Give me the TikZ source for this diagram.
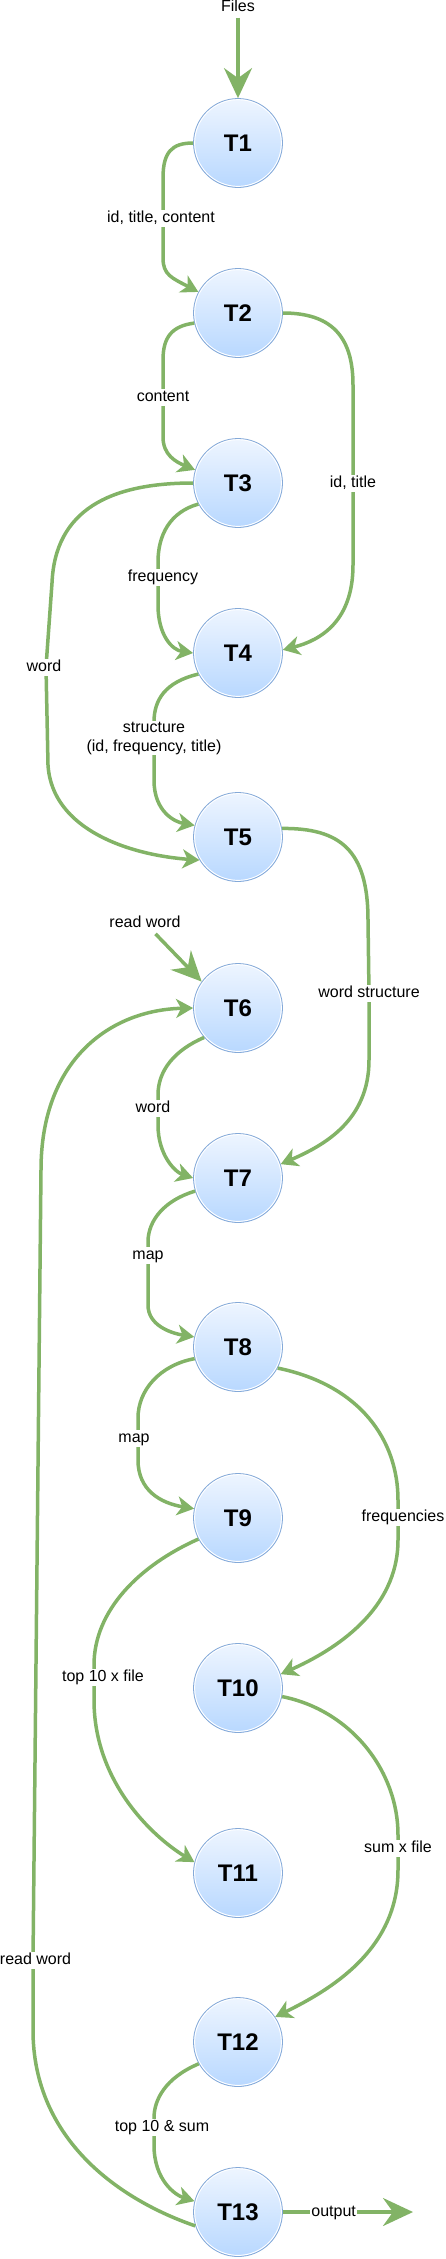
\documentclass[tikz,border=0pt]{standalone}
\usepackage{fontspec}
\setmainfont{Liberation Sans}
\usetikzlibrary{arrows.meta}
\definecolor{edgegreen}{HTML}{82B366}
\definecolor{topblue}{HTML}{EEF5FF}
\definecolor{botblue}{HTML}{B8D8FF}
\definecolor{ringblue}{HTML}{84A9D8}
\begin{document}
\begin{tikzpicture}[x=1pt,y=-1pt,
 task/.style={circle, minimum size=89pt, inner sep=0pt, top color=topblue, bottom color=botblue, draw=ringblue, line width=0.8pt, font=\fontsize{24}{28}\selectfont\bfseries, path picture={\draw[white,line width=1pt] (path picture bounding box.center) circle[radius=43.4pt];}},
 lbl/.style={fill=white, inner sep=1pt, font=\fontsize{16}{19}\selectfont, text height=11.5pt, text depth=3.5pt},
 lbltwo/.style={fill=white, inner sep=1pt, font=\fontsize{16}{19}\selectfont, align=center},
 flow/.style={draw=edgegreen, line width=3.5pt, -{Stealth[length=17pt,width=19pt,inset=5pt]}},
 bigflow/.style={draw=edgegreen, line width=3.5pt, -{Stealth[length=30pt,width=28pt,inset=10pt]}},
]
\useasboundingbox (0,0) rectangle (446,2259);
\node[lbl] (files) at (238,7) {Files};
\node[task] (T1) at (238,143) {T1};
\node[task] (T2) at (238,313) {T2};
\node[task] (T3) at (238,483) {T3};
\node[task] (T4) at (238,653) {T4};
\node[task] (T5) at (238,837) {T5};
\node[task] (T6) at (238,1008) {T6};
\node[task] (T7) at (238,1178) {T7};
\node[task] (T8) at (238,1347) {T8};
\node[task] (T9) at (238,1518) {T9};
\node[task] (T10) at (238,1688) {T10};
\node[task] (T11) at (238,1873) {T11};
\node[task] (T12) at (238,2042) {T12};
\node[task] (T13) at (238,2212) {T13};
\node[lbl] (rw) at (145,923) {read word};
\coordinate (out) at (413,2212);

\draw[bigflow, shorten <=2pt] (files) -- (T1);
\draw[flow] (T1.west) .. controls (172,143) and (163,152) .. (163,178) -- (163,218) node[lbl,xshift=-2pt]{id, title, content} -- (163,258) .. controls (163,275) and (172,278) .. (T2.152);
\draw[flow] (T2.193) .. controls (172,326) and (163,337) .. (163,360) -- (163,397) node[lbl]{content} -- (163,437) .. controls (163,455) and (176,462) .. (T3.163);
\draw[flow] (T2.east) .. controls (330,313) and (353,335) .. (353,385) -- (353,483) node[lbl]{id, title} -- (353,565) .. controls (353,620) and (322,640) .. (T4.4);
\draw[flow] (T3.208) .. controls (170,512) and (158,535) .. (158,562) -- (158,577) node[lbl,xshift=5pt]{frequency} -- (158,605) .. controls (158,635) and (172,650) .. (T4.west);
\draw[flow] (T3.west) .. controls (110,483) and (55,510) .. (52,583) -- (46,667) node[lbl,xshift=-2pt]{word} -- (48,765) .. controls (52,830) and (130,855) .. (T5.211);
\draw[flow] (T4.208) .. controls (165,682) and (154,700) .. (154,722) -- (154,738) node[lbltwo]{structure\\(id, frequency, title)} -- (154,780) .. controls (154,812) and (175,822) .. (T5.165);
\draw[flow] (T5.11) .. controls (340,828) and (368,850) .. (368,920) -- (369,993) node[lbl]{word structure} -- (369,1060) .. controls (369,1120) and (325,1145) .. (T7.18);
\draw[bigflow, shorten <=3pt] (rw) -- (T6.144);
\draw[flow] (T13.198) .. controls (120,2200) and (33,2140) .. (33,2030) -- (33,1960) node[lbl,xshift=2.5pt]{read word} -- (41,1170) .. controls (41,1060) and (110,1010) .. (T6.west);
\draw[flow] (T6.221) .. controls (175,1050) and (158,1070) .. (158,1095) -- (158,1108) node[lbl,xshift=-5pt]{word} -- (158,1125) .. controls (158,1155) and (175,1172) .. (T7.west);
\draw[flow] (T7.197) .. controls (165,1200) and (148,1220) .. (148,1242) -- (148,1255) node[lbl]{map} -- (148,1305) .. controls (148,1325) and (170,1333) .. (T8.167);
\draw[flow] (T8.195) .. controls (160,1365) and (138,1390) .. (138,1418) -- (138,1438) node[lbl,xshift=-4pt]{map} -- (138,1460) .. controls (138,1490) and (160,1503) .. (T9.168);
\draw[flow] (T8.332) .. controls (360,1385) and (398,1440) .. (398,1500) -- (398,1517) node[lbl,xshift=5pt]{frequencies} -- (398,1540) .. controls (398,1610) and (335,1650) .. (T10.18);
\draw[flow] (T9.208) .. controls (140,1565) and (94,1610) .. (94,1665) -- (94,1677) node[lbl,xshift=9pt]{top 10 x file} -- (94,1700) .. controls (94,1780) and (150,1835) .. (T11.166);
\draw[flow] (T10.349) .. controls (350,1710) and (398,1770) .. (398,1835) -- (398,1848) node[lbl]{sum x file} -- (398,1870) .. controls (398,1950) and (330,1990) .. (T12.34);
\draw[flow] (T12.209) .. controls (165,2078) and (154,2100) .. (154,2118) -- (154,2127) node[lbl,xshift=8pt]{top 10 \& sum} -- (154,2145) .. controls (154,2180) and (175,2195) .. (T13.166);
\draw[bigflow] (T13.east) -- node[lbl,pos=0.39]{output} (out);
\end{tikzpicture}
\end{document}
